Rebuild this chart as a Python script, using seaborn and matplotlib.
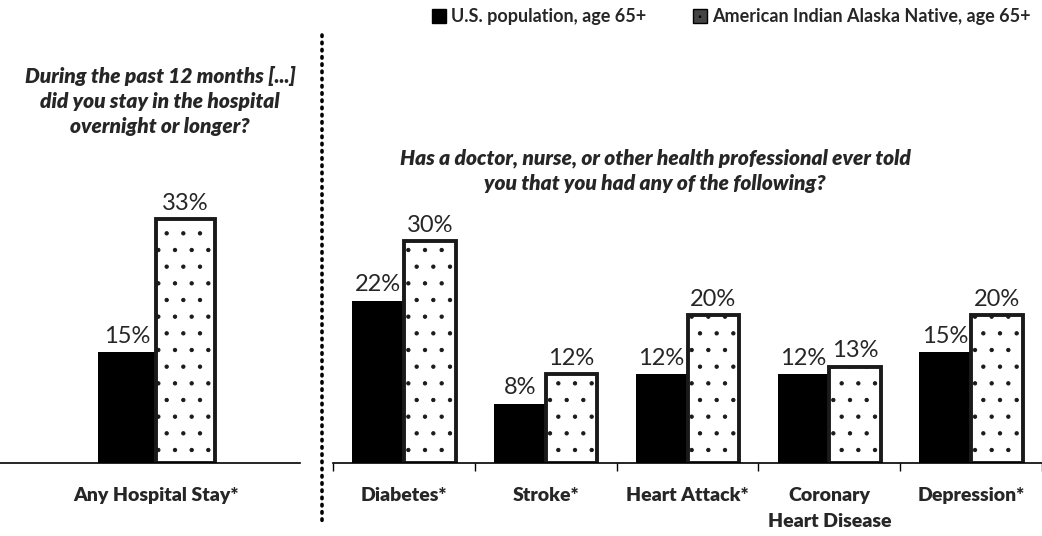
import pandas as pd
import numpy as np
import matplotlib.pyplot as plt
import matplotlib.patches as mpatches
from matplotlib.lines import Line2D
import seaborn as sns

# data
groups = ["U.S. population, age 65+", "American Indian Alaska Native, age 65+"]

left_cats = ["Any Hospital Stay*"]
left_us = [15]
left_aian = [33]

right_cats = ["Diabetes*", "Stroke*", "Heart Attack*", "Coronary\nHeart Disease", "Depression*"]
right_us = [22, 8, 12, 12, 15]
right_aian = [30, 12, 20, 13, 20]

left_title = "During the past 12 months [...]\ndid you stay in the hospital\novernight or longer?"
right_title = "Has a doctor, nurse, or other health professional ever told\nyou that you had any of the following?"

sns.set_style("white")
plt.rcParams['font.family'] = ['Lato', 'DejaVu Sans']
plt.rcParams['hatch.linewidth'] = 0.7

def make_df(cats, us, aian):
    return pd.DataFrame({
        "cat": cats * 2,
        "val": us + aian,
        "group": [groups[0]] * len(cats) + [groups[1]] * len(cats),
    })

palette = {groups[0]: "black", groups[1]: "white"}

fig = plt.figure(figsize=(10.42, 5.36), dpi=100)
bottom = 73 / 536
height = 0.62
ax1 = fig.add_axes([0.0, bottom, 300 / 1042, height])
ax2 = fig.add_axes([333 / 1042, bottom, 709 / 1042, height])


def draw(ax, df, width):
    sns.barplot(data=df, x="cat", y="val", hue="group", palette=palette,
                width=width, ax=ax, legend=False, saturation=1)
    for i, cont in enumerate(ax.containers):
        for p in cont:
            if i == 0:
                p.set_edgecolor("black")
                p.set_linewidth(0)
            else:
                p.set_facecolor("white")
                p.set_edgecolor("#1a1a1a")
                p.set_linewidth(2.8)
                p.set_hatch(".")
        vals = [int(round(p.get_height())) for p in cont]
        ax.bar_label(cont, labels=[f"{v}%" for v in vals], padding=4,
                     fontsize=17)
    ax.set_ylim(0, 45)
    ax.set_xlabel("")
    ax.set_ylabel("")
    ax.set_yticks([])
    for s in ["top", "right", "left"]:
        ax.spines[s].set_visible(False)
    ax.spines["bottom"].set_color("black")
    ax.spines["bottom"].set_linewidth(1.2)


draw(ax1, make_df(left_cats, left_us, left_aian), 0.39)
ax1.set_xlim(-0.52, 0.48)
ax1.set_xticks([0], left_cats, fontweight="heavy", fontsize=14)
ax1.tick_params(axis="x", length=0, pad=17)

draw(ax2, make_df(right_cats, right_us, right_aian), 0.73)
ax2.set_xlim(-0.5, 4.46)
ax2.set_xticks(np.arange(len(right_cats)), right_cats, fontweight="heavy",
               fontsize=14, linespacing=1.7, va="top")
ax2.set_xticks(np.arange(len(right_cats) + 1) - 0.5, minor=True)
ax2.tick_params(axis="x", which="major", length=0, pad=17)
ax2.tick_params(axis="x", which="minor", length=6, width=1, direction="out",
                color="black", bottom=True)

# titles
fig.text(160 / 1042, 1 - 101 / 536, left_title, ha="center", va="center",
         fontsize=15, fontweight="heavy", style="italic", linespacing=1.35)
fig.text(655 / 1042, 1 - 171 / 536, right_title, ha="center", va="center",
         fontsize=15, fontweight="heavy", style="italic", linespacing=1.35)

# dotted separator
fig.add_artist(Line2D([322 / 1042, 322 / 1042], [1 - 35 / 536, 1 - 522 / 536],
                      transform=fig.transFigure, color="black", linewidth=2.6,
                      linestyle=(0, (0.4, 1.6)), dash_capstyle="round"))

# legend
handles = [mpatches.Patch(facecolor="black", edgecolor="black"),
           mpatches.Patch(facecolor="#444444", edgecolor="black", hatch="..")]
fig.legend(handles, groups, loc="upper right", bbox_to_anchor=(1.005, 1.015),
           ncol=2, frameon=False, handlelength=0.75,
           handleheight=0.75, handletextpad=0.3, columnspacing=2.6,
           prop={"weight": "bold", "size": 13})

plt.savefig("out.png", dpi=100)
